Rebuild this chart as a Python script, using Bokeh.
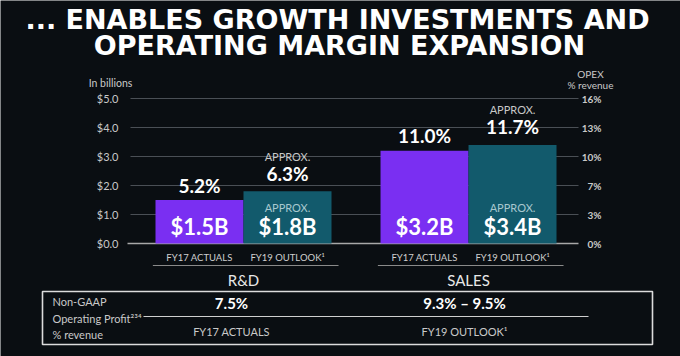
from bokeh.plotting import figure
from bokeh.models import ColumnDataSource, Range1d, Label, BoxAnnotation
from bokeh.core.properties import value
from bokeh.embed import file_html
from bokeh.resources import INLINE

# ---------------- data ----------------
groups = ["R&D", "SALES"]
periods = ["FY17 ACTUALS", "FY19 OUTLOOK¹"]
spend_billions = [1.5, 1.8, 3.2, 3.4]            # R&D FY17, R&D FY19, SALES FY17, SALES FY19
spend_labels = ["$1.5B", "$1.8B", "$3.2B", "$3.4B"]
opex_pct_labels = ["5.2%", "6.3%", "11.0%", "11.7%"]
is_approx = [False, True, False, True]
y_ticks = [0, 1, 2, 3, 4, 5]
y_tick_labels = ["$0.0", "$1.0", "$2.0", "$3.0", "$4.0", "$5.0"]
opex_ticks = [0, 3.2, 6.4, 9.6, 12.8, 16]
opex_tick_labels = ["0%", "3%", "7%", "10%", "13%", "16%"]
op_margin_labels = ["7.5%", "9.3% – 9.5%"]
op_margin_periods = ["FY17 ACTUALS", "FY19 OUTLOOK¹"]

# ---------------- layout / style ----------------
W, H = 680, 356
BG = "#0a0e12"
PURPLE = "#7a2ff2"
TEAL = "#125a6c"
FONT = "Lato"
TITLE_FONT = "DejaVu Sans"
GROUP_GAP = 0.557          # gap between groups, in bar widths
BAR_PX = 88.0              # pixels per bar width
X0_PX = 155.0              # pixel of first bar's left edge
BASE_PX = 243.0            # pixel row of $0
PX_PER_B = 29.0            # pixels per $1B
OPEX_MAX = 16.0
GRID_L_PX, GRID_R_PX = 130.0, 578.0

def px2x(px):
    return (px - X0_PX) / BAR_PX

x_range = Range1d(px2x(0), px2x(W))
y_range = Range1d(-(H - BASE_PX) / PX_PER_B, BASE_PX / PX_PER_B)
opex_px = (BASE_PX - 98.0) / OPEX_MAX
opex_range = Range1d(-(H - BASE_PX) / opex_px, BASE_PX / opex_px)

# category positions derived from category indices
bar_left, bar_color, bar_period = [], [], []
for gi, g in enumerate(groups):
    for pi, s in enumerate(periods):
        bar_left.append(gi * (len(periods) + GROUP_GAP) + pi)
        bar_color.append(PURPLE if pi == 0 else TEAL)
        bar_period.append(s)
bar_center = [l + 0.5 for l in bar_left]
n = len(periods)
group_center = [(bar_center[i * n] + bar_center[i * n + n - 1]) / 2 for i in range(len(groups))]

src = ColumnDataSource(dict(x=bar_center, top=spend_billions, color=bar_color,
                            spend=spend_labels, pct=opex_pct_labels, period=bar_period))

p = figure(width=W, height=H, output_backend="svg", toolbar_location=None,
           x_range=x_range, y_range=y_range, min_border=0,
           x_axis_type=None, y_axis_type=None)
p.extra_y_ranges = {"opex": opex_range}
p.background_fill_color = BG
p.border_fill_color = BG
p.outline_line_color = None
p.grid.visible = False

gx0, gx1 = px2x(GRID_L_PX), px2x(GRID_R_PX)

# grid lines (from the $ ticks)
p.segment(x0=gx0, x1=gx1, y0=y_ticks[1:], y1=y_ticks[1:], line_color="#4a4f55", line_width=1)
# baseline
p.segment(x0=[px2x(127)], x1=[gx1], y0=[0], y1=[0], line_color="#a8a8a8", line_width=1.3)

# bars
p.vbar(x="x", top="top", width=1.0, fill_color="color", line_color=None, source=src)

# left tick labels
p.text(x=gx0, y=y_ticks, text=y_tick_labels, x_offset=-12, text_align="right",
       text_baseline="middle", text_color="#c9c9c9", text_font=value(FONT), text_font_size="11px")
# right tick labels (OPEX % revenue)
p.text(x=gx1, y=opex_ticks, text=opex_tick_labels, x_offset=23, text_align="right",
       text_baseline="middle", text_color="#c9c9c9", text_font=value(FONT), text_font_style="bold",
       text_font_size="10px", y_range_name="opex")

# category labels
p.text(x="x", y=0, text="period", source=src, y_offset=14, text_align="center",
       text_baseline="middle", text_color="#cfcfcf", text_font=value(FONT), text_font_size="9.5px")
p.text(x=group_center, y=0, text=groups, y_offset=36, text_align="center",
       text_baseline="middle", text_color="#e8e8e8", text_font=value(FONT), text_font_size="15px")
sep_y = -(265 - BASE_PX) / PX_PER_B
sep_x0 = [bar_left[i * n] - 0.03 for i in range(len(groups))]
sep_x1 = [bar_left[i * n + n - 1] + 1.08 for i in range(len(groups))]
p.segment(x0=sep_x0, x1=sep_x1, y0=sep_y, y1=sep_y, line_color="#8a8a8a", line_width=1)

# bar labels
apx = [i for i, a in enumerate(is_approx) if a]
pln = [i for i, a in enumerate(is_approx) if not a]
p.text(x=[bar_center[i] for i in pln], y=[spend_billions[i] for i in pln],
       text=[opex_pct_labels[i] for i in pln], y_offset=-15,
       text_align="center", text_baseline="middle", text_color="white",
       text_font=value(FONT), text_font_style="bold", text_font_size="19px")
p.text(x=[bar_center[i] for i in apx], y=[spend_billions[i] for i in apx],
       text=[opex_pct_labels[i] for i in apx], y_offset=-18,
       text_align="center", text_baseline="middle", text_color="white",
       text_font=value(FONT), text_font_style="bold", text_font_size="19px")
p.text(x=[bar_center[i] for i in apx], y=[spend_billions[i] for i in apx],
       text=["APPROX."] * len(apx), y_offset=-35,
       text_align="center", text_baseline="middle", text_color="#c8c8c8",
       text_font=value(FONT), text_font_size="11px")
p.text(x=[bar_center[i] for i in apx], y=0, text=["APPROX."] * len(apx), y_offset=-36,
       text_align="center", text_baseline="middle", text_color="#a8c8cf",
       text_font=value(FONT), text_font_size="11px")
p.text(x="x", y=0, text="spend", source=src, y_offset=-17,
       text_align="center", text_baseline="middle", text_color="white",
       text_font=value(FONT), text_font_style="bold", text_font_size="22px")

# ---------- free texts / table in canvas pixels ----------
def lab(text, x, y, size, color="#c9c9c9", align="center", bold=False, font=FONT):
    p.add_layout(Label(x=x, y=y, x_units="canvas", y_units="canvas", text=text,
                       text_align=align, text_baseline="middle", text_color=color,
                       text_font=font, text_font_size=size,
                       text_font_style="bold" if bold else "normal"))

lab("... ENABLES GROWTH INVESTMENTS AND", 337, 19, "27px", "white", bold=True, font=TITLE_FONT)
lab("OPERATING MARGIN EXPANSION", 339, 45, "27px", "white", bold=True, font=TITLE_FONT)
lab("In billions", 110, 82, "10.5px")
lab("OPEX", 590, 73, "10px")
lab("% revenue", 590, 84, "10px")

def box(l, r, t, b, fill=None, line=None, lw=1):
    p.add_layout(BoxAnnotation(left=l, right=r, top=t, bottom=b,
                               left_units="canvas", right_units="canvas",
                               top_units="canvas", bottom_units="canvas",
                               fill_color=fill, fill_alpha=1 if fill else 0,
                               line_color=line, line_alpha=1, line_width=lw))

box(42, 652, 291, 344, line="#dcdcdc", lw=1.6)
box(143, 588, 315.5, 316.5, fill="#cfcfcf")
lab("Non-GAAP", 52, 301, "11px", align="left")
lab("Operating Profit²³⁴", 52, 318, "11px", align="left")
lab("% revenue", 52, 334, "11px", align="left")
for xc, t, per in zip([231, 464], op_margin_labels, op_margin_periods):
    lab(t, xc, 302, "15px", "white", bold=True)
    lab(per, xc, 331, "11px")

open("out.html", "w").write(file_html(p, INLINE))
